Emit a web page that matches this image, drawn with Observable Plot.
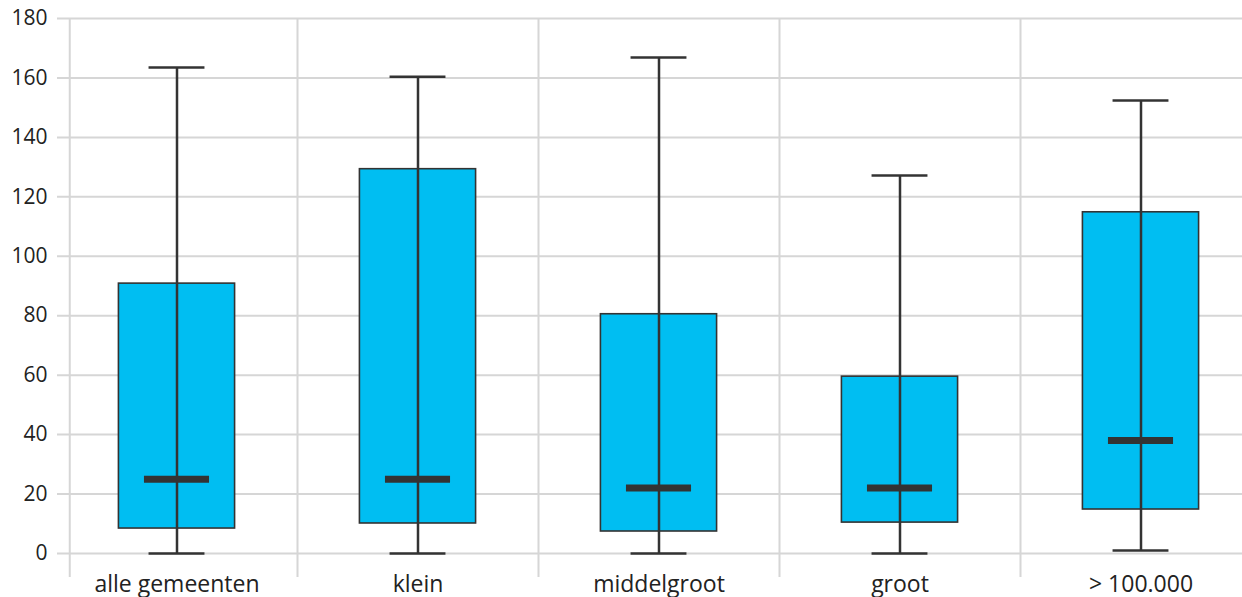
<!DOCTYPE html>
<html>
<head>
<meta charset="utf-8">
<script src="https://cdn.jsdelivr.net/npm/d3@7"></script>
<script src="https://cdn.jsdelivr.net/npm/@observablehq/plot@0.6"></script>
<style>
  html, body { margin: 0; padding: 0; background: #fff; }
  #chart svg { display: block; }
</style>
</head>
<body>
<div id="chart"></div>
<script>
const categories = ["alle gemeenten", "klein", "middelgroot", "groot", "> 100.000"];
const minima  = [0, 0, 0, 0, 1];
const q1s     = [8.4, 10.1, 7.4, 10.4, 14.8];
const medians = [25, 25, 22, 22, 38];
const q3s     = [90.8, 129.3, 80.5, 59.5, 114.8];
const maxima  = [163.5, 160.4, 166.9, 127.2, 152.4];
const yTicks  = [0, 20, 40, 60, 80, 100, 120, 140, 160, 180];
// vertical separator positions (in category-index units)
const separators = [-0.445, 0.5, 1.5, 2.5, 3.5];

const data = categories.map((c, i) => ({
  cat: c, i, min: minima[i], q1: q1s[i], med: medians[i], q3: q3s[i], max: maxima[i]
}));

const ink = "#333333";
const grid = "#d6d6d6";
const boxHalf = 0.241, capHalf = 0.116, medHalf = 0.135;

const chart = Plot.plot({
  width: 1242,
  height: 597,
  marginLeft: 57,
  marginRight: 0,
  marginTop: 18,
  marginBottom: 20,
  style: { fontFamily: "'Open Sans', sans-serif", fontSize: "20px", color: "#222" },
  x: { type: "linear", domain: [-0.5, 4.5], range: [56, 1261], axis: null },
  y: { domain: [0, 180], range: [553, 18], axis: null },
  marks: [
    Plot.ruleY(yTicks, { stroke: grid, strokeWidth: 2 }),
    Plot.ruleX(separators, { stroke: grid, strokeWidth: 2 }),
    Plot.axisY(yTicks, { tickSize: 0, tickPadding: 10, fontSize: 21, fill: "#222" }),
    Plot.text(data, {
      x: "i", text: "cat", frameAnchor: "bottom", lineAnchor: "bottom", dy: 14,
      fontSize: 23, fill: "#222"
    }),
    Plot.rect(data, {
      x1: d => d.i - boxHalf, x2: d => d.i + boxHalf, y1: "q1", y2: "q3",
      fill: "#00bef2", stroke: ink, strokeWidth: 1.6
    }),
    Plot.ruleX(data, { x: "i", y1: "min", y2: "max", stroke: ink, strokeWidth: 2.5 }),
    Plot.ruleY(data, { y: "max", x1: d => d.i - capHalf, x2: d => d.i + capHalf, stroke: ink, strokeWidth: 2.5 }),
    Plot.ruleY(data, { y: "min", x1: d => d.i - capHalf, x2: d => d.i + capHalf, stroke: ink, strokeWidth: 2.5 }),
    Plot.ruleY(data, { y: "med", x1: d => d.i - medHalf, x2: d => d.i + medHalf, stroke: ink, strokeWidth: 7 })
  ]
});
document.getElementById("chart").appendChild(chart);
</script>
</body>
</html>
